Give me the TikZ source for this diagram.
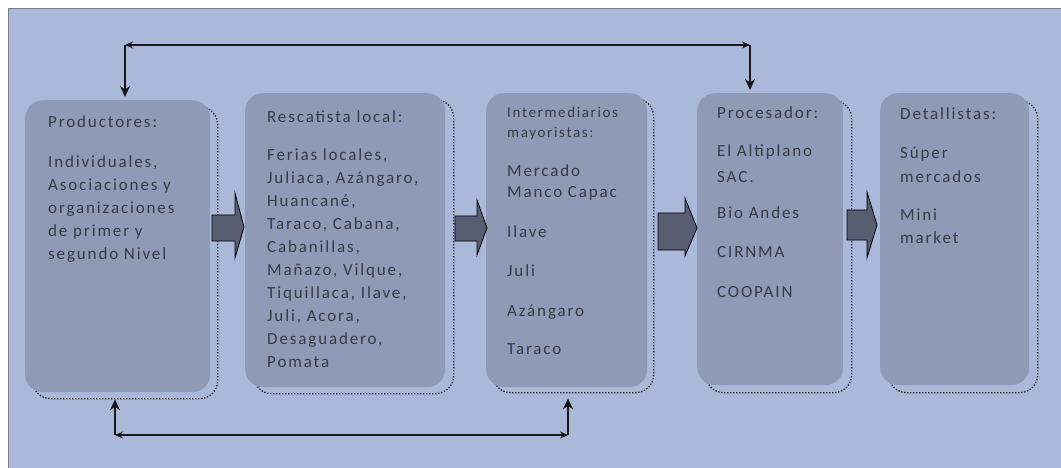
\documentclass[tikz,border=0pt]{standalone}
\usepackage{fontspec}
\setmainfont{Carlito}[LetterSpace=11]
\usetikzlibrary{arrows.meta}
\definecolor{bg}{RGB}{170,185,218}
\definecolor{boxfill}{RGB}{143,154,182}
\definecolor{txt}{RGB}{55,59,72}
\definecolor{arrfill}{RGB}{88,94,114}
\definecolor{framecol}{RGB}{120,128,140}
\begin{document}
\begin{tikzpicture}[x=1pt,y=-1pt,
  stagebox/.style={draw=none, fill=boxfill, rounded corners=18pt, anchor=north west, inner sep=0pt},
  shadowbox/.style={draw=black!90, line width=1.3pt, dash pattern=on 1.3pt off 1.7pt, rounded corners=18pt, anchor=north west, inner sep=0pt},
  stagetext/.style={anchor=north west, align=left, inner sep=0pt, text=txt, font=\fontsize{17}{23}\selectfont},
  conn/.style={draw=black!90, line width=1.6pt, -{Stealth[length=11pt,width=10pt]}},
  hconn/.style={draw=black!90, line width=1.6pt, {Stealth[length=8pt,width=7pt]}-{Stealth[length=8pt,width=7pt]}},
  blockarrow/.style={draw=black, line width=0.8pt, fill=arrfill, line join=miter}]
\useasboundingbox (0,0) rectangle (1061,468);
% background frame
\fill[bg] (8,9) rectangle (1061,468);
\draw[framecol, line width=1pt] (8,468) -- (8,9) -- (1061,9);
% dotted shadows
\node[shadowbox, minimum width=185pt, minimum height=292pt] (s1) at (32,106) {};
\node[shadowbox, minimum width=200pt, minimum height=294pt] (s2) at (253,99) {};
\node[shadowbox, minimum width=161pt, minimum height=294pt] (s3) at (492,98) {};
\node[shadowbox, minimum width=146pt, minimum height=292pt] (s4) at (705,100) {};
\node[shadowbox, minimum width=149pt, minimum height=292pt] (s5) at (888,100) {};
% boxes
\node[stagebox, minimum width=185pt, minimum height=292pt] (b1) at (25,100) {};
\node[stagebox, minimum width=200pt, minimum height=294pt] (b2) at (245,93) {};
\node[stagebox, minimum width=161pt, minimum height=294pt] (b3) at (486,93) {};
\node[stagebox, minimum width=146pt, minimum height=292pt] (b4) at (697,93) {};
\node[stagebox, minimum width=149pt, minimum height=292pt] (b5) at (880,93) {};
% texts
\node[stagetext] (t1) at (48,115) {Productores:\\[17pt]Individuales,\\Asociaciones y\\organizaciones\\de primer y\\segundo Nivel};
\node[stagetext] (t2) at (267,110) {Rescatista local:\\[15pt]Ferias locales,\\Juliaca, Azángaro,\\Huancané,\\Taraco, Cabana,\\Cabanillas,\\Mañazo, Vilque,\\Tiquillaca, Ilave,\\Juli, Acora,\\Desaguadero,\\Pomata};
\node[stagetext, font=\fontsize{17}{20}\selectfont] (t3) at (507,107) {{\fontsize{15}{18}\selectfont Intermediarios}\\{\fontsize{15}{18}\selectfont mayoristas:}\\[19pt]Mercado\\[1pt]Manco Capac\\[20pt]Ilave\\[19pt]Juli\\[20pt]Azángaro\\[18pt]Taraco};
\node[stagetext] (t4) at (717,106) {Procesador:\\[15pt]El Altiplano\\[3pt]SAC.\\[13pt]Bio Andes\\[16pt]CIRNMA\\[17pt]COOPAIN};
\node[stagetext] (t5) at (900,107) {Detallistas:\\[16pt]Súper\\[1pt]mercados\\[15pt]Mini\\market};
% block arrows
\draw[blockarrow] (212,215) -- (235,215) -- (235,193) -- (244,227) -- (235,258) -- (235,241) -- (212,241) -- cycle;
\draw[blockarrow] (455,216) -- (477,216) -- (477,200) -- (487,228) -- (477,255) -- (477,241) -- (455,241) -- cycle;
\draw[blockarrow] (658,213) -- (685,213) -- (685,198) -- (697,228) -- (685,256) -- (685,250) -- (658,250) -- cycle;
\draw[blockarrow] (847,210) -- (867,210) -- (867,192) -- (877,225) -- (867,258) -- (867,240) -- (847,240) -- cycle;
% connectors
\coordinate (tl) at (125,45);
\coordinate (tr) at (750,45);
\coordinate (bl) at (115,435);
\coordinate (br) at (568,435);
\draw[hconn] (tl) -- (tr);
\draw[conn, shorten >=3pt] (tl) -- (tl |- b1.north);
\draw[conn, shorten >=3pt] (tr) -- (tr |- b4.north);
\draw[hconn] (bl) -- (br);
\draw[conn] (bl) -- (bl |- s1.south);
\draw[conn, shorten >=5pt] (br) -- (br |- s3.south);
\end{tikzpicture}
\end{document}
